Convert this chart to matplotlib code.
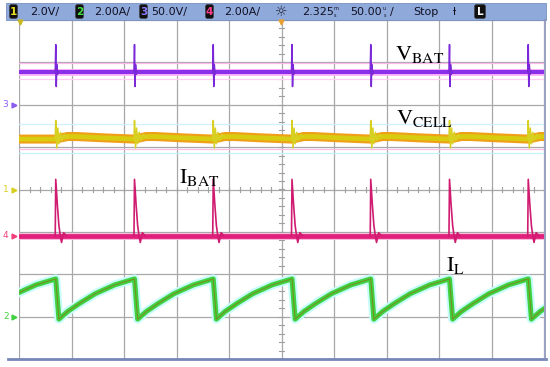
import numpy as np
import matplotlib.pyplot as plt
from matplotlib.patches import Rectangle, FancyBboxPatch

# trigger/switching instants (divisions, 50 us/div)
spike_t = [0.70, 2.20, 3.70, 5.20, 6.70, 8.20, 9.70]
period = 1.5

# V_BAT (ch3): baseline and spike shape (offset div, level div)
vbat_base = 2.78
vbat_dt = [-0.01, 0.0, 0.01, 0.02, 0.035, 0.05]
vbat_v = [2.78, 3.42, 2.43, 2.95, 2.72, 2.78]

# V_CELL (ch1): spike + ringing, slow recovery of the band
vcell_ring_dt = [-0.01, 0.0, 0.02, 0.04, 0.06, 0.09, 0.12, 0.16, 0.22]
vcell_ring_v = [1.20, 1.63, 0.98, 1.45, 1.08, 1.35, 1.15, 1.30, 1.24]
vcell_slow_dt = [0.0, 0.22, 0.4, 0.9, 1.49]
vcell_slow_v = [1.19, 1.25, 1.25, 1.22, 1.19]

# I_BAT (ch4): current pulse
ibat_base = -1.09
ibat_dt = [-0.01, 0.0, 0.03, 0.06, 0.09, 0.11, 0.15, 0.2]
ibat_v = [-1.09, 0.24, -0.35, -0.85, -1.12, -1.25, -1.02, -1.09]

# I_L (ch2): inductor sawtooth, phase of period -> level
il_phase = [0.0, 0.04, 0.15, 0.3, 0.5, 0.75, 1.0]
il_v = [-2.11, -3.06, -2.88, -2.69, -2.46, -2.25, -2.11]

# header bar
ch_ids = ['1', '2', '3', '4']
ch_scale = ['2.0V/', '2.00A/', '50.0V/', '2.00A/']
ch_colors = ['#e8e020', '#40e040', '#8c7cff', '#ff3c8c']
time_text = ['2.325', '50.00', 'Stop']

fig = plt.figure(figsize=(5.5, 3.67), dpi=100)
fig.patch.set_facecolor('white')

ax = fig.add_axes([19 / 550, 8 / 367, 525 / 550, 339 / 367])
ax.set_xlim(0, 10)
ax.set_ylim(-4, 4)
ax.set_xticks([])
ax.set_yticks([])
for s in ax.spines.values():
    s.set_visible(False)

# graticule
for i in range(11):
    ax.axvline(i, color='#a8a8a8', lw=0.9, zorder=1)
for j in range(-4, 5):
    ax.axhline(j, color='#a8a8a8', lw=0.9, zorder=1)
for k in np.arange(0, 10.01, 0.2):
    ax.plot([k, k], [-0.05, 0.05], color='#a0a0a0', lw=0.8, zorder=1)
for k in np.arange(-4, 4.01, 0.2):
    ax.plot([4.96, 5.04], [k, k], color='#a0a0a0', lw=0.8, zorder=1)

# faint ghost lines
for y, c in [(2.98, '#ffb8f0'), (2.6, '#ffd0f4'), (0.95, '#ffc0e4'),
             (0.85, '#c0f4f8'), (1.55, '#d0f0ff')]:
    ax.axhline(y, color=c, lw=0.9, zorder=1.5)

# V_BAT
ax.axhline(vbat_base, color='#ffb8f8', lw=5, zorder=2)
ax.axhline(vbat_base, color='#8a30e8', lw=3.0, zorder=3)
for t in spike_t:
    ax.plot([t + d for d in vbat_dt], vbat_v, color='#7a28d8', lw=1.1, zorder=3)

# V_CELL
xs, ys = [0.0], [vcell_slow_v[0]]
for t in spike_t:
    xs += [t + d for d in vcell_slow_dt]
    ys += vcell_slow_v
ax.plot(xs, ys, color='#f0a018', lw=6.5, zorder=2)
ax.plot(xs, ys, color='#d8cc10', lw=3.4, zorder=3)
for t in spike_t:
    ax.plot([t + d for d in vcell_ring_dt], vcell_ring_v, color='#d8d020',
            lw=1.1, zorder=3)

# I_BAT
ax.axhline(ibat_base, color='#f8b8dc', lw=5, zorder=2)
ax.axhline(ibat_base, color='#e0207a', lw=3.4, zorder=3)
for t in spike_t:
    ax.plot([t + d for d in ibat_dt], ibat_v, color='#d01c70', lw=1.2, zorder=3)

# I_L
il_t = [spike_t[0] - period] + spike_t
xs, ys = [], []
for t in il_t:
    xs += [t + p * period for p in il_phase[:-1]]
    ys += il_v[:-1]
xs.append(il_t[-1] + period)
ys.append(il_v[-1])
ax.plot(xs, ys, color='#c8fcfc', lw=6.5, zorder=2)
ax.plot(xs, ys, color='#40d040', lw=3.6, zorder=3)
ax.plot(xs, ys, color='#7a8a20', lw=0.7, zorder=3)

# trace labels
plt.rcParams['mathtext.fontset'] = 'stix'
lab = dict(fontsize=16, color='black', ha='left', va='baseline', zorder=5)
ax.text(7.16, 3.06, r'$\mathrm{V_{BAT}}$', **lab)
ax.text(7.18, 1.55, r'$\mathrm{V_{CELL}}$', **lab)
ax.text(3.05, 0.15, r'$\mathrm{I_{BAT}}$', **lab)
ax.text(8.13, -1.92, r'$\mathrm{I_{L}}$', **lab)

# channel ground markers on the left
for yy, txt, c in [(2.0, '3', '#8c5cf0'), (0.0, '1', '#d8d020'),
                   (-1.09, '4', '#f0407a'), (-3.0, '2', '#40d040')]:
    ax.text(-0.2, yy, txt, color=c, fontsize=6.5, ha='right', va='center',
            clip_on=False)
    ax.plot([-0.1], [yy], marker='>', color=c, ms=3.5, clip_on=False)

# frame (bottom/right)
ov = fig.add_axes([0, 0, 1, 1], facecolor='none')
ov.set_xlim(0, 550)
ov.set_ylim(367, 0)
ov.axis('off')
ov.plot([8, 546], [359, 359], color='#7886b8', lw=2)
ov.plot([545, 545], [20, 359], color='#8890b8', lw=1.2)

# header bar
ov.add_patch(Rectangle((6, 3), 540, 17, facecolor='#8fa9da',
                       edgecolor='#7890c0', lw=0.6))
badge_x = [10, 76, 140, 206]
text_x = [30, 94, 151, 224]
for bx, tx, cid, sc, c in zip(badge_x, text_x, ch_ids, ch_scale, ch_colors):
    ov.add_patch(FancyBboxPatch((bx, 5), 7, 13, boxstyle='round,pad=0.3,rounding_size=1.5',
                                facecolor='#101010', edgecolor='#303030', lw=0.5))
    ov.text(bx + 3.5, 12, cid, color=c, fontsize=7.5, ha='center', va='center',
            fontweight='bold')
    ov.text(tx, 12, sc, color='#111122', fontsize=8, ha='left', va='center')

ov.text(281, 12, '\u263c', color='#202030', fontsize=10, ha='center', va='center')
ov.text(302, 12, time_text[0], color='#111122', fontsize=8, ha='left', va='center')
ov.text(333, 8, 'm', color='#111122', fontsize=3.5, ha='left', va='center')
ov.text(334, 15.5, 's', color='#111122', fontsize=3.5, ha='left', va='center')
ov.text(350, 12, time_text[1], color='#111122', fontsize=8, ha='left', va='center')
ov.text(383, 8, 'u', color='#111122', fontsize=3.5, ha='left', va='center')
ov.text(384, 15.5, 's', color='#111122', fontsize=3.5, ha='left', va='center')
ov.text(390, 12, '/', color='#111122', fontsize=8, ha='left', va='center')
ov.text(413, 12, time_text[2], color='#111122', fontsize=8, ha='left', va='center')
ov.text(455, 12, '\u019a', color='#111122', fontsize=8, ha='center', va='center')
ov.add_patch(FancyBboxPatch((475, 5), 10, 13, boxstyle='round,pad=0.3,rounding_size=1.5',
                            facecolor='#101010', edgecolor='#303030', lw=0.5))
ov.text(480, 12, 'L', color='white', fontsize=7.5, ha='center', va='center',
        fontweight='bold')

# trigger position markers
ov.plot([20], [22], marker='v', color='#c8b820', ms=3.5)
ov.plot([281], [22], marker='v', color='#e8a030', ms=3.5)

plt.savefig('out.png', dpi=100)
plt.close()
